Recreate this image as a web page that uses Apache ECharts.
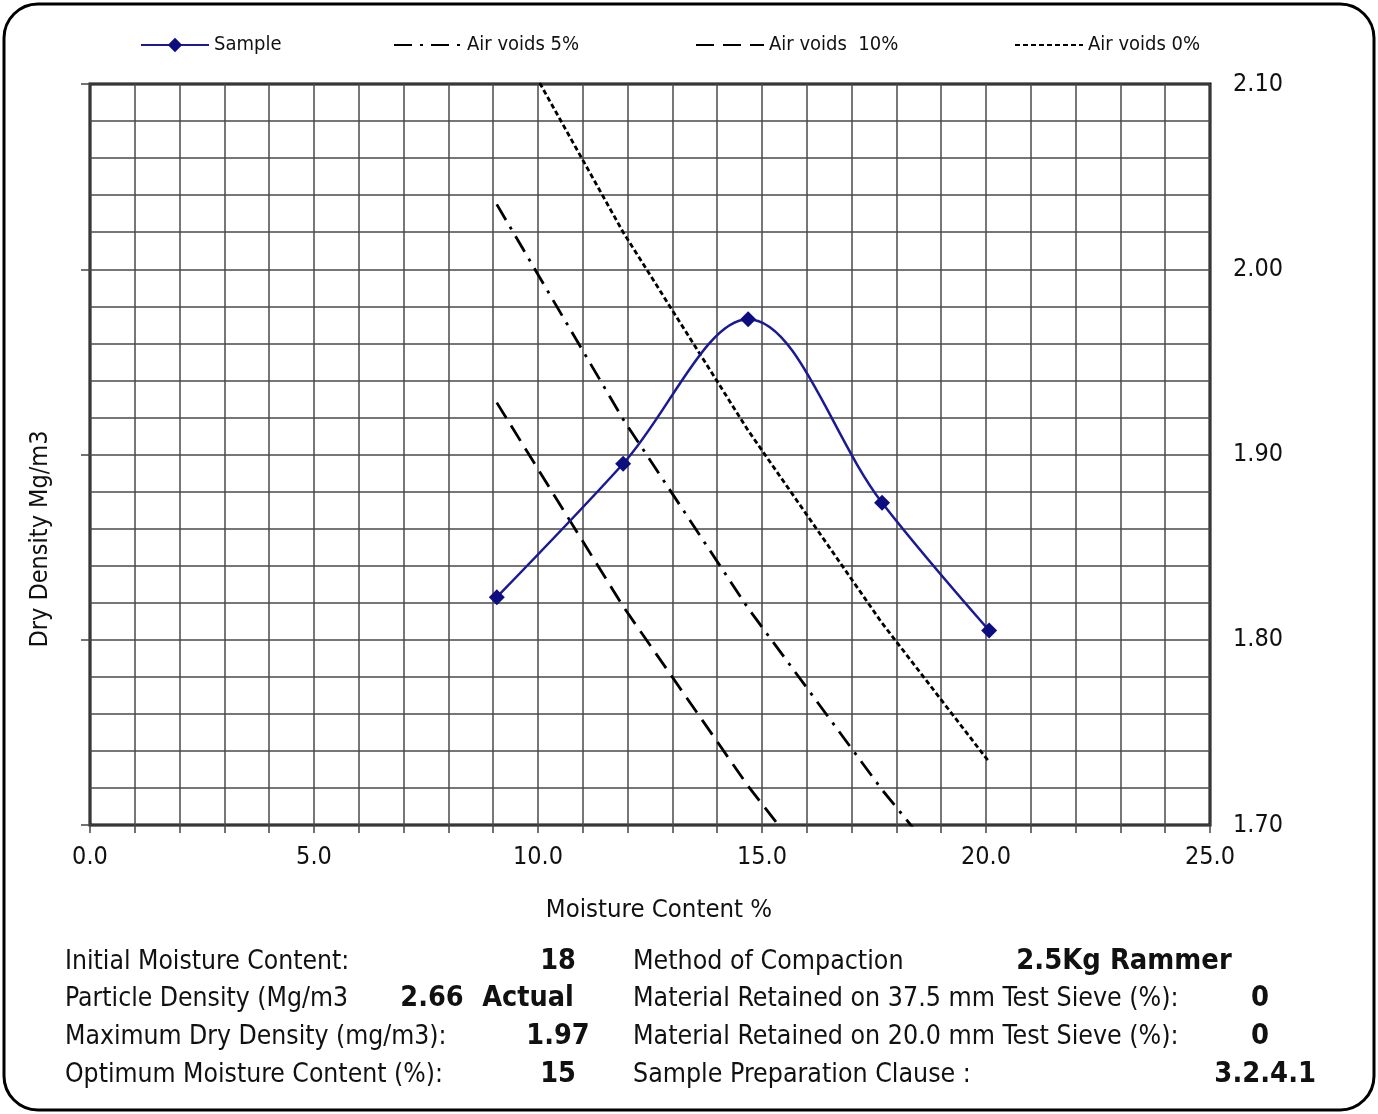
<!DOCTYPE html>
<html>
<head>
<meta charset="utf-8">
<title>Dry Density / Moisture Content</title>
<script src="https://cdn.jsdelivr.net/npm/echarts@6/dist/echarts.min.js"></script>
<style>
  html, body { margin: 0; padding: 0; background: #fff; }
  #chart { width: 1378px; height: 1114px; }
</style>
</head>
<body>
<div id="chart"></div>
<script>
// Compaction test results: moisture content (%) vs dry density (Mg/m3)
const moisture = [9.08, 11.9, 14.69, 17.68, 20.07];
const dryDensity = [1.823, 1.895, 1.973, 1.874, 1.805];

// Air-voids lines evaluated at the same moisture contents
const airVoids0 = [2.142, 2.020, 1.913, 1.809, 1.734];
const airVoids5 = [2.035, 1.919, 1.817, 1.719, 1.648];
const airVoids10 = [1.928, 1.818, 1.721, 1.628, 1.561];

// Test summary
const leftLabels = [
  'Initial Moisture Content:',
  'Particle Density (Mg/m3',
  'Maximum Dry Density (mg/m3):',
  'Optimum Moisture Content (%):'
];
const leftValues = ['18', '2.66', '1.97', '15'];
const rightLabels = [
  'Method of Compaction',
  'Material Retained on 37.5 mm Test Sieve (%):',
  'Material Retained on 20.0 mm Test Sieve (%):',
  'Sample Preparation Clause :'
];
const rightValues = ['2.5Kg Rammer', '0', '0', '3.2.4.1'];
const densityType = 'Actual';

const FONT = '"DejaVu Sans Condensed", "DejaVu Sans", sans-serif';
const pairs = (xs, ys) => xs.map((x, i) => [x, ys[i]]);

const rowY = [962, 999, 1037, 1075];
const graphics = [
  {
    type: 'rect', z: 100,
    shape: { x: 4, y: 4, width: 1370, height: 1106, r: 34 },
    style: { fill: 'none', stroke: '#000', lineWidth: 3 }
  },
  {
    type: 'text', x: 40, y: 539, rotation: Math.PI / 2,
    style: { text: 'Dry Density Mg/m3', font: '25px ' + FONT, fill: '#111',
             textAlign: 'center', textVerticalAlign: 'middle' }
  }
];
leftLabels.forEach((t, i) => graphics.push({
  type: 'text', x: 65, y: rowY[i],
  style: { text: t, font: '26.3px ' + FONT, fill: '#111', textVerticalAlign: 'middle' }
}));
rightLabels.forEach((t, i) => graphics.push({
  type: 'text', x: 633, y: rowY[i],
  style: { text: t, font: '26.5px ' + FONT, fill: '#111', textVerticalAlign: 'middle' }
}));
const leftValueX = [558, 432, 558, 558];
leftValues.forEach((t, i) => graphics.push({
  type: 'text', x: leftValueX[i], y: rowY[i],
  style: { text: t, font: 'bold 28.5px ' + FONT, fill: '#111',
           textAlign: 'center', textVerticalAlign: 'middle' }
}));
graphics.push({
  type: 'text', x: 528, y: rowY[1],
  style: { text: densityType, font: 'bold 28.5px ' + FONT, fill: '#111',
           textAlign: 'center', textVerticalAlign: 'middle' }
});
const rightValueX = [1124, 1260, 1260, 1316];
const rightValueAlign = ['center', 'center', 'center', 'right'];
rightValues.forEach((t, i) => graphics.push({
  type: 'text', x: rightValueX[i], y: rowY[i],
  style: { text: t, font: 'bold 28.8px ' + FONT, fill: '#111',
           textAlign: rightValueAlign[i], textVerticalAlign: 'middle' }
}));

const legendBase = {
  top: 35, padding: 0, itemWidth: 68, itemHeight: 18, itemGap: 0,
  textStyle: { fontFamily: FONT, fontSize: 20, color: '#111', padding: [0, 0, 0, 0] },
  selectedMode: false
};
// dashed air-void entries show only their line, no marker
const lineOnly = { itemStyle: { opacity: 0 } };

const chart = echarts.init(document.getElementById('chart'), null, { renderer: 'canvas' });
chart.setOption({
  animation: false,
  backgroundColor: '#fff',
  textStyle: { fontFamily: FONT },
  legend: [
    Object.assign({}, legendBase, { left: 140, data: ['Sample'] }),
    Object.assign({}, legendBase, lineOnly, { left: 393, data: ['Air voids 5%'] }),
    Object.assign({}, legendBase, lineOnly, { left: 695, data: ['Air voids  10%'] }),
    Object.assign({}, legendBase, lineOnly, { left: 1014, data: ['Air voids 0%'] })
  ],
  grid: {
    left: 90, right: 168, top: 84, bottom: 289,
    show: true, borderColor: '#000', borderWidth: 3, backgroundColor: 'transparent'
  },
  xAxis: {
    type: 'value', min: 0, max: 25, interval: 1,
    name: 'Moisture Content %', nameLocation: 'middle', nameGap: 72,
    nameTextStyle: { fontSize: 25.5, color: '#111', padding: [0, 0, 0, 18] },
    axisLine: { show: false },
    axisTick: { show: true, inside: false, length: 8, lineStyle: { color: '#444', width: 1.5 } },
    axisLabel: {
      fontSize: 25, color: '#111', margin: 20, showMinLabel: true, showMaxLabel: true,
      formatter: v => (Math.abs(v % 5) < 1e-6 ? v.toFixed(1) : '')
    },
    splitLine: { show: true, lineStyle: { color: '#4a4a4a', width: 1.5 } }
  },
  yAxis: [
    {
      type: 'value', min: 1.7, max: 2.1, interval: 0.02, position: 'right',
      axisLine: { show: false },
      axisTick: { show: false },
      axisLabel: {
        fontSize: 25, color: '#111', margin: 23,
        formatter: v => (Math.abs(v * 10 - Math.round(v * 10)) < 1e-6 ? v.toFixed(2) : '')
      },
      splitLine: { show: true, lineStyle: { color: '#4a4a4a', width: 1.5 } }
    },
    {
      type: 'value', min: 1.7, max: 2.1, interval: 0.1, position: 'left',
      axisLine: { show: false },
      axisTick: { show: true, length: 9, lineStyle: { color: '#444', width: 1.5 } },
      axisLabel: { show: false },
      splitLine: { show: false }
    }
  ],
  series: [
    {
      name: 'Air voids 5%', type: 'line', yAxisIndex: 0, symbol: 'none', z: 3,
      data: pairs(moisture, airVoids5),
      lineStyle: { color: '#000', width: 2.8, type: [18, 8, 3, 8] },
      itemStyle: { color: '#000' }
    },
    {
      name: 'Air voids  10%', type: 'line', yAxisIndex: 0, symbol: 'none', z: 3,
      data: pairs(moisture, airVoids10),
      lineStyle: { color: '#000', width: 2.8, type: [18, 9] },
      itemStyle: { color: '#000' }
    },
    {
      name: 'Air voids 0%', type: 'line', yAxisIndex: 0, symbol: 'none', z: 3,
      data: pairs(moisture, airVoids0),
      lineStyle: { color: '#000', width: 2.8, type: [5, 3] },
      itemStyle: { color: '#000' }
    },
    {
      name: 'Sample', type: 'line', yAxisIndex: 0, z: 5,
      smooth: 0.35,
      symbol: 'diamond', symbolSize: 16,
      data: pairs(moisture, dryDensity),
      lineStyle: { color: '#1a1a96', width: 2.5 },
      itemStyle: { color: '#0d0d80' }
    }
  ],
  graphic: graphics
});
</script>
</body>
</html>
